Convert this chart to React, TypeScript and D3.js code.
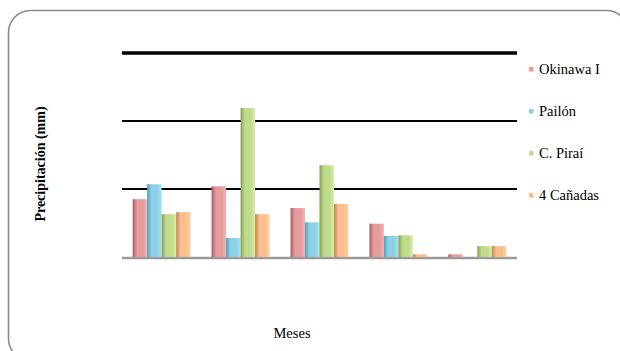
import React from "react";
import * as d3 from "d3";

const categories = ["1", "2", "3", "4", "5"];
const seriesNames = ["Okinawa I", "Pailón", "C. Piraí", "4 Cañadas"];
const okinawa = [85, 104, 72, 49, 4];
const pailon = [107, 28, 51, 31, 0];
const pirai = [63, 219, 135, 32, 16];
const canadas = [66, 63, 78, 4, 16];
const gridValues = [100, 200, 300];
const seriesValues = [okinawa, pailon, pirai, canadas];
const colors = ["#E49C9C", "#8DD0E6", "#C0DA8E", "#F9BE8C"];
const darkColors = ["#9E6262", "#5A98AE", "#859E58", "#BC8656"];

const FONT = "'Liberation Serif', 'DejaVu Serif', serif";

export default function App() {
  const W = 620, H = 351;
  const left = 122, right = 517, top = 53, bottom = 257;
  const x0 = d3.scaleBand().domain(categories).range([left, right]).paddingInner(0.265).paddingOuter(0.135);
  const x1 = d3.scaleBand().domain(seriesNames).range([0, x0.bandwidth()]);
  const y = d3.scaleLinear().domain([0, 300]).range([bottom, top]);

  return (
    <svg width={W} height={H} style={{ position: "absolute", left: 0, top: 0 }}>
      <defs>
        {colors.map((c, i) => (
          <linearGradient key={i} id={`g${i}`} x1="0" x2="1" y1="0" y2="0">
            <stop offset="0" stopColor={darkColors[i]} />
            <stop offset="0.3" stopColor={c} />
            <stop offset="0.7" stopColor={c} />
            <stop offset="1" stopColor={d3.color(c)!.brighter(0.3).toString()} />
          </linearGradient>
        ))}
      </defs>
      <rect x={8.5} y={10.5} width={620} height={350} rx={22} fill="white" stroke="#8a8a8a" strokeWidth={1.6} />
      <line x1={left} x2={right} y1={bottom + 1} y2={bottom + 1} stroke="#9a9a9a" strokeWidth={2.5} />
      {gridValues.map((v, i) => (
        <line key={v} x1={left} x2={right} y1={y(v)} y2={y(v)} stroke="#000" strokeWidth={i === 2 ? 3.5 : 2} />
      ))}
      {categories.map((cat) => (
        <g key={cat} transform={`translate(${x0(cat)},0)`}>
          {seriesNames.map((s, si) => {
            const v = seriesValues[si][categories.indexOf(cat)];
            if (v <= 0) return null;
            return (
              <rect key={s} x={x1(s)} y={y(v)} width={x1.bandwidth()} height={bottom - y(v)} fill={`url(#g${si})`} />
            );
          })}
        </g>
      ))}
      {seriesNames.map((s, i) => (
        <g key={s} transform={`translate(529,${69 + i * 42})`}>
          <rect x={0} y={-2} width={4.5} height={4.5} fill={colors[i]} />
          <text x={10} y={0} dy="0.35em" style={{ fontFamily: FONT, fontSize: 14.5 }} fill="#000">{s}</text>
        </g>
      ))}
      <text transform="translate(40,164) rotate(-90)" textAnchor="middle" dy="0.35em" style={{ fontFamily: FONT, fontWeight: "bold", fontSize: 14 }}>Precipitación (mm)</text>
      <text x={292} y={333} textAnchor="middle" dy="0.35em" style={{ fontFamily: FONT, fontSize: 14.5 }}>Meses</text>
    </svg>
  );
}
